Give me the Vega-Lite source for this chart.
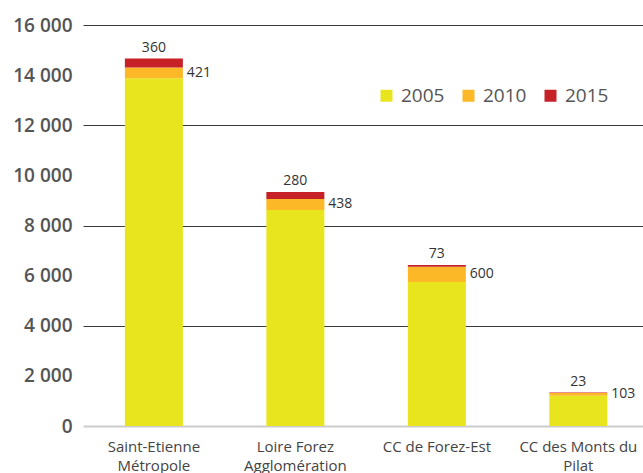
{
  "$schema": "https://vega.github.io/schema/vega-lite/v6.json",
  "autosize": "none",
  "width": 560,
  "height": 401,
  "padding": {"left": 83, "top": 25, "right": 0, "bottom": 47},
  "background": "white",
  "config": {
    "view": {"stroke": null},
    "font": "Open Sans"
  },
  "data": {
    "values": [
      {"zone": "Saint-Etienne Métropole", "year": "2005", "value": 13880},
      {"zone": "Saint-Etienne Métropole", "year": "2010", "value": 421},
      {"zone": "Saint-Etienne Métropole", "year": "2015", "value": 360},
      {"zone": "Loire Forez Agglomération", "year": "2005", "value": 8620},
      {"zone": "Loire Forez Agglomération", "year": "2010", "value": 438},
      {"zone": "Loire Forez Agglomération", "year": "2015", "value": 280},
      {"zone": "CC de Forez-Est", "year": "2005", "value": 5750},
      {"zone": "CC de Forez-Est", "year": "2010", "value": 600},
      {"zone": "CC de Forez-Est", "year": "2015", "value": 73},
      {"zone": "CC des Monts du Pilat", "year": "2005", "value": 1210},
      {"zone": "CC des Monts du Pilat", "year": "2010", "value": 103},
      {"zone": "CC des Monts du Pilat", "year": "2015", "value": 23}
    ]
  },
  "transform": [
    {"stack": "value", "groupby": ["zone"], "sort": [{"field": "year", "order": "ascending"}], "as": ["y0", "y1"]},
    {"calculate": "(datum.y0 + datum.y1) / 2", "as": "ymid"}
  ],
  "encoding": {
    "x": {
      "field": "zone",
      "type": "nominal",
      "sort": null,
      "scale": {"paddingInner": 0.59, "paddingOuter": 0.274, "align": 0.54},
      "axis": {
        "title": null,
        "labelAngle": 0,
        "domainColor": "#cccccc",
        "domainWidth": 2,
        "ticks": false,
        "labelPadding": 13,
        "labelFontSize": 15,
        "labelColor": "#444444",
        "labelLineHeight": 19,
        "labelExpr": "datum.label == 'Saint-Etienne Métropole' ? ['Saint-Etienne', 'Métropole'] : datum.label == 'Loire Forez Agglomération' ? ['Loire Forez', 'Agglomération'] : datum.label == 'CC des Monts du Pilat' ? ['CC des Monts du', 'Pilat'] : datum.label"
      }
    }
  },
  "layer": [
    {
      "mark": {"type": "bar"},
      "encoding": {
        "y": {
          "field": "y1",
          "type": "quantitative",
          "scale": {"domain": [0, 16000], "nice": false},
          "axis": {
            "title": null,
            "values": [0, 2000, 4000, 6000, 8000, 10000, 12000, 14000, 16000],
            "domain": false,
            "ticks": false,
            "labelPadding": 11,
            "labelFontSize": 19,
            "labelFontWeight": 600,
            "labelColor": "#555555",
            "labelExpr": "replace(format(datum.value, ','), ',', ' ')",
            "grid": true,
            "gridColor": "#3a3a3a",
            "gridWidth": 1,
            "gridOpacity": {"condition": {"test": "datum.value % 4000 === 0 && datum.value > 0", "value": 1}, "value": 0}
          }
        },
        "y2": {"field": "y0"},
        "color": {
          "field": "year",
          "type": "nominal",
          "scale": {"domain": ["2005", "2010", "2015"], "range": ["#E8E51F", "#FDB827", "#C62127"]},
          "legend": {
            "title": null,
            "orient": "none",
            "direction": "horizontal",
            "legendX": 294,
            "legendY": 61,
            "symbolType": "square",
            "symbolSize": 144,
            "symbolStrokeWidth": 0,
            "labelFontSize": 19,
            "labelColor": "#555555",
            "labelOffset": 5,
            "columnPadding": 14,
            "padding": 0
          }
        }
      }
    },
    {
      "transform": [{"filter": "datum.year == '2015'"}],
      "mark": {"type": "text", "baseline": "bottom", "dy": -4, "fontSize": 14, "color": "#333333"},
      "encoding": {
        "y": {"field": "y1", "type": "quantitative"},
        "text": {"field": "value", "type": "quantitative"}
      }
    },
    {
      "transform": [{"filter": "datum.year == '2010'"}],
      "mark": {"type": "text", "baseline": "middle", "align": "left", "xOffset": 33, "fontSize": 14, "color": "#333333"},
      "encoding": {
        "y": {"field": "ymid", "type": "quantitative"},
        "text": {"field": "value", "type": "quantitative"}
      }
    }
  ]
}
